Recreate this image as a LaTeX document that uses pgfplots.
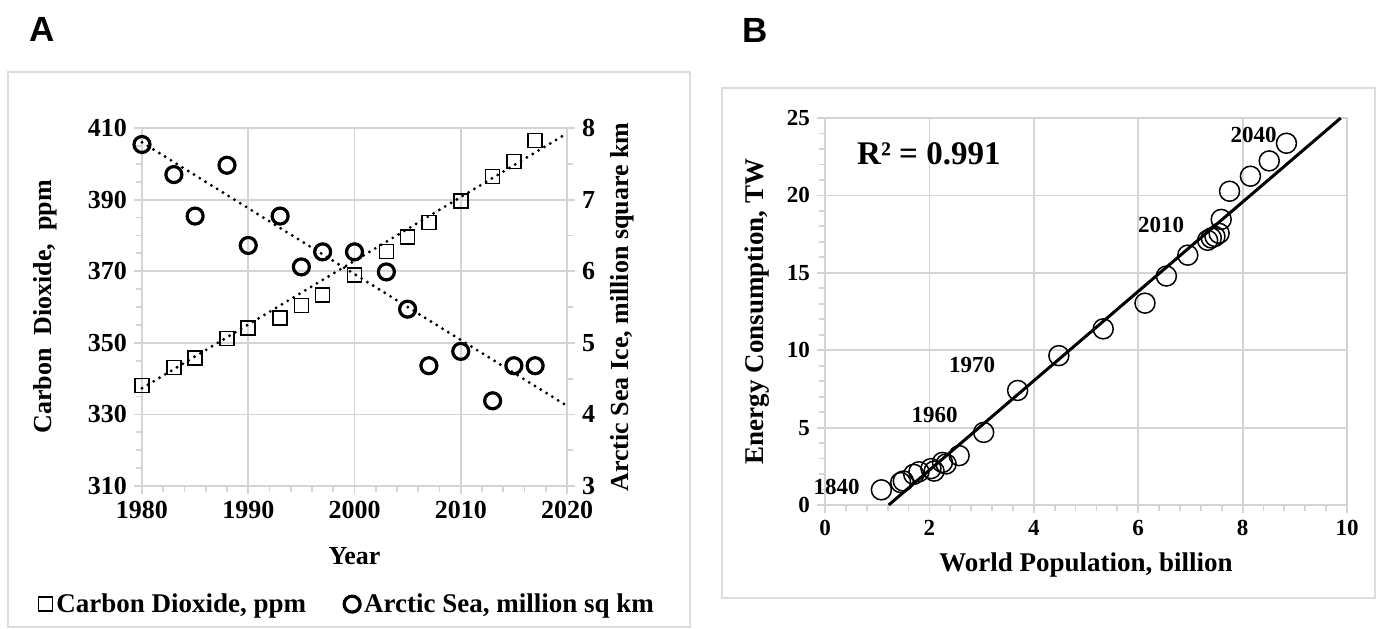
\documentclass[border=0pt]{standalone}
\usepackage{fontspec}
\setmainfont{Liberation Serif}
\newfontfamily\panelfont{Liberation Sans}
\usepackage{pgfplots}
\pgfplotsset{compat=1.18}
\definecolor{gridc}{HTML}{D4D4D4}
\definecolor{framec}{HTML}{DCDCDC}
\pgfplotsset{
  base/.style={
    scale only axis,
    axis line style={gridc, line width=0.9pt},
    major grid style={gridc, line width=0.9pt},
    tick style={gridc, line width=0.9pt},
    tick align=outside,
    major tick length=4pt,
    minor tick length=3pt,
    /pgf/number format/assume math mode=true,
    /pgf/number format/1000 sep={},
    clip=false,
  }
}
\pgfplotstableread{
year co2
1980 338.1
1983 343.1
1985 345.7
1988 351.2
1990 354.1
1993 356.9
1995 360.4
1997 363.3
2000 368.9
2003 375.5
2005 379.6
2007 383.6
2010 389.6
2013 396.5
2015 400.6
2017 406.5
}\cotwo
\pgfplotstableread{
year ice
1980 7.77
1983 7.35
1985 6.77
1988 7.48
1990 6.36
1993 6.77
1995 6.06
1997 6.27
2000 6.27
2003 5.99
2005 5.47
2007 4.68
2010 4.88
2013 4.19
2015 4.68
2017 4.68
}\ice
\pgfplotstableread{
pop energy
1.08 0.98
1.45 1.45
1.50 1.55
1.70 1.98
1.80 2.15
2.03 2.35
2.09 2.19
2.25 2.75
2.32 2.65
2.57 3.19
3.04 4.69
3.69 7.40
4.48 9.65
5.33 11.38
6.13 13.04
6.54 14.79
6.95 16.14
7.33 17.10
7.40 17.25
7.47 17.35
7.55 17.55
7.59 18.45
7.75 20.27
8.15 21.24
8.51 22.23
8.84 23.37
}\energy
\begin{document}
\begin{tikzpicture}
\useasboundingbox (0pt,0pt) rectangle (688.5pt,314pt);
\fill[white] (0pt,0pt) rectangle (688.5pt,314pt);
\draw[framec, line width=1pt] (4pt,0.5pt) rectangle (345pt,278pt);
\draw[framec, line width=1pt] (361pt,15pt) rectangle (687.5pt,270pt);
\node[font=\panelfont\bfseries\fontsize{17.5}{20}\selectfont] at (21pt,299.5pt) {A};
\node[font=\panelfont\bfseries\fontsize{17.5}{20}\selectfont] at (377.5pt,299pt) {B};

% ---------- Panel A, left axis ----------
\begin{axis}[base,
  at={(71pt,71pt)}, anchor=south west, width=212.5pt, height=179pt,
  xmin=1980, xmax=2020, ymin=310, ymax=410,
  xtick={1980,1990,2000,2010,2020}, ytick={310,330,350,370,390,410},
  minor x tick num=4, minor y tick num=3,
  xtick pos=left, ytick pos=left,
  grid=major,
  tick label style={font=\bfseries\fontsize{13}{15}\selectfont},
  xlabel={Year}, ylabel={Carbon\ \ Dioxide,\ \ ppm},
  label style={font=\bfseries\fontsize{13}{15}\selectfont},
  xlabel style={at={(axis description cs:0.5,-0.196)}, anchor=center},
  ylabel style={at={(axis description cs:-0.228,0.5)}, anchor=center},
]
\addplot[line width=1.6pt, line cap=round, dash pattern=on 0pt off 3.4pt, forget plot] coordinates {(1980,337.3) (2020,408.5)};
\addplot[only marks, mark=square, mark size=3.5pt, mark options={line width=0.8pt}] table[x=year, y=co2] {\cotwo};
\end{axis}

% ---------- Panel A, right axis ----------
\begin{axis}[base,
  at={(71pt,71pt)}, anchor=south west, width=212.5pt, height=179pt,
  xmin=1980, xmax=2020, ymin=3, ymax=8,
  ytick={3,4,5,6,7,8}, minor y tick num=1,
  axis x line=none, axis y line*=right,
  tick label style={font=\bfseries\fontsize{13}{15}\selectfont},
  ylabel={Arctic Sea Ice, million square km},
  label style={font=\bfseries\fontsize{13}{15}\selectfont},
  ylabel style={at={(axis description cs:1.129,0.5)}, anchor=center},
  legend style={at={(axis description cs:0.485,-0.33)}, anchor=center, draw=none, fill=none,
    font=\bfseries\fontsize{13.5}{15}\selectfont, legend columns=2,
    /tikz/every even column/.append style={column sep=17pt}},
  legend cell align=left,
]
\addlegendimage{only marks, mark=square, mark size=3.5pt, mark options={line width=0.8pt}}
\addlegendentry{Carbon Dioxide, ppm}
\addplot[line width=1.6pt, line cap=round, dash pattern=on 0pt off 3.4pt, forget plot] coordinates {(1980,7.8) (2020,4.12)};
\addplot[only marks, mark=o, mark size=4pt, mark options={line width=1.6pt}] table[x=year, y=ice] {\ice};
\addlegendentry{Arctic Sea, million sq km}
\end{axis}

% ---------- Panel B ----------
\begin{axis}[base,
  at={(412.5pt,61.5pt)}, anchor=south west, width=261pt, height=193.5pt,
  xmin=0, xmax=10, ymin=0, ymax=25,
  xtick={0,2,4,6,8,10}, ytick={0,5,10,15,20,25},
  minor x tick num=4, minor y tick num=4,
  xtick pos=left, ytick pos=left,
  grid=major,
  tick label style={font=\bfseries\fontsize{11.5}{13}\selectfont},
  xlabel={World Population, billion}, ylabel={Energy Consumption, TW},
  label style={font=\bfseries\fontsize{13.5}{15}\selectfont},
  xlabel style={at={(axis description cs:0.5,-0.155)}, anchor=center},
  ylabel style={at={(axis description cs:-0.13,0.5)}, anchor=center},
]
\addplot[line width=1.5pt] coordinates {(1.22,0) (9.88,25)};
\addplot[only marks, mark=o, mark size=5pt, mark options={line width=0.75pt}] table[x=pop, y=energy] {\energy};
\node[font=\bfseries\fontsize{16.5}{19}\selectfont] at (axis cs:1.99,22.7) {R² = 0.991};
\node[font=\bfseries\fontsize{11.5}{13}\selectfont, anchor=east] at (axis cs:0.8,1.15) {1840};
\node[font=\bfseries\fontsize{11.5}{13}\selectfont] at (axis cs:2.1,5.83) {1960};
\node[font=\bfseries\fontsize{11.5}{13}\selectfont] at (axis cs:2.82,9.06) {1970};
\node[font=\bfseries\fontsize{11.5}{13}\selectfont] at (axis cs:6.44,18.1) {2010};
\node[font=\bfseries\fontsize{11.5}{13}\selectfont] at (axis cs:8.21,23.88) {2040};
\end{axis}
\end{tikzpicture}
\end{document}
